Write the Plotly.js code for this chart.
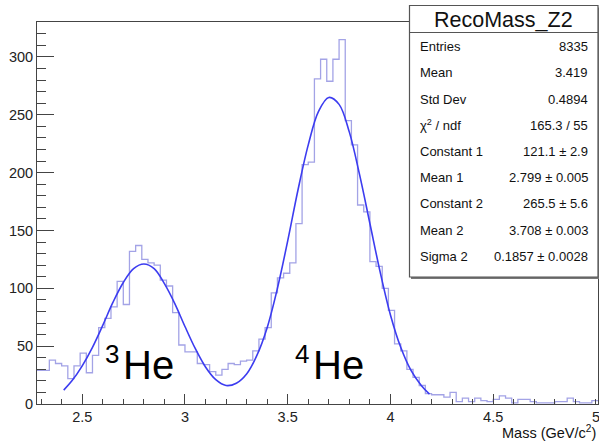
<!DOCTYPE html>
<html>
<head>
<meta charset="utf-8">
<script src="https://cdn.plot.ly/plotly-3.0.1.min.js"></script>
<style>html,body{margin:0;padding:0;background:#fff;}#chart{width:599px;height:442px;}</style>
</head>
<body>
<div id="chart"></div>
<script>
// ---- data ----
const binStart = 2.28;
const binWidth = 0.03;
const counts = [
  29, 29, 38, 35, 33, 22, 33, 44, 27, 42,
  66, 74, 84, 106, 86, 132, 137, 125, 122, 120,
  107, 102, 79, 51, 45, 45, 35, 34, 28, 25,
  30, 35, 34, 37, 38, 46, 56, 66, 96, 109,
  113, 122, 156, 207, 209, 281, 298, 279, 298, 315,
  245, 224, 172, 166, 123, 119, 100, 81, 52, 46,
  30, 23, 16, 9, 8, 8, 6, 10, 2, 5,
  2, 5, 3, 2, 4, 7, 5, 1, 4, 4,
  2, 1, 1, 1, 2, 2, 5, 2, 1, 1, 3
];
const fitX = [2.41, 2.45, 2.5, 2.55, 2.6, 2.65, 2.7, 2.75, 2.8, 2.85, 2.9, 2.95, 3.0, 3.05, 3.1, 3.15, 3.2, 3.25, 3.3, 3.35, 3.4, 3.45, 3.5, 3.55, 3.6, 3.65, 3.7, 3.75, 3.8, 3.85, 3.9, 3.95, 4.0, 4.05, 4.1, 4.15, 4.19];
const fitY = [12, 20, 33, 49, 68, 88, 105, 117, 121, 117, 104, 87, 67, 48, 32, 21, 16, 18, 26, 42, 66, 100, 141, 185, 224, 253, 265, 259, 235, 198, 156, 114, 77, 49, 29, 16, 8.5];
const xTickVals = [2.5, 3, 3.5, 4, 4.5];
const xTickText = ['2.5', '3', '3.5', '4', '4.5'];
const xLastTick = {value: 5, text: '5'};
const statsTitle = 'RecoMass_Z2';
const statLabels = ['Entries', 'Mean', 'Std Dev', 'χ<sup>2</sup> / ndf', 'Constant 1', 'Mean 1', 'Constant 2', 'Mean 2', 'Sigma 2'];
const statValues = ['8335', '3.419', '0.4894', '165.3 / 55', '121.1 ± 2.9', '2.799 ± 0.005', '265.5 ± 5.6', '3.708 ± 0.003', '0.1857 ± 0.0028'];
const peakLabels = [{sup: '3', txt: 'He'}, {sup: '4', txt: 'He'}];

// ---- build step outline from bins ----
const edges = counts.map((c, i) => binStart + i * binWidth);
edges.push(binStart + counts.length * binWidth);
const stepY = counts.concat([counts[counts.length - 1]]);

// ---- pixel helpers (plot area 37..598 x 22..404) ----
const L = 37, T = 22, W = 561, H = 382;
const px = x => (x - L) / W;
const py = y => (T + H - y) / H;
const FONT = 'Liberation Sans, Arial, Helvetica, sans-serif';

const traces = [
  {x: edges, y: stepY, type: 'scatter', mode: 'lines', line: {shape: 'hv', color: '#a3a3e6', width: 1.3}, hoverinfo: 'skip'},
  {x: fitX, y: fitY, type: 'scatter', mode: 'lines', line: {shape: 'spline', color: '#3c3cf0', width: 1.6}, hoverinfo: 'skip'}
];

const annotations = [];
// last x tick label (sits on the right edge, partly cut like the reference)
annotations.push({xref: 'x', yref: 'paper', x: xLastTick.value, y: py(417), text: xLastTick.text, showarrow: false, xanchor: 'center', yanchor: 'middle', font: {family: FONT, size: 14.5, color: '#222'}});
// stats box text
annotations.push({xref: 'paper', yref: 'paper', x: px(503), y: py(20), text: statsTitle, showarrow: false, xanchor: 'center', yanchor: 'middle', font: {family: FONT, size: 21.5, color: '#111'}});
const rowY0 = 46.7, rowDy = 26.2;
statLabels.forEach((s, i) => {
  annotations.push({xref: 'paper', yref: 'paper', x: px(418), y: py(rowY0 + i * rowDy), text: s, showarrow: false, xanchor: 'left', yanchor: 'middle', font: {family: FONT, size: 13, color: '#111'}});
  annotations.push({xref: 'paper', yref: 'paper', x: px(590), y: py(rowY0 + i * rowDy), text: statValues[i], showarrow: false, xanchor: 'right', yanchor: 'middle', font: {family: FONT, size: 13, color: '#111'}});
});
// x-axis title
annotations.push({xref: 'paper', yref: 'paper', x: px(598), y: py(432), text: 'Mass (GeV/c<sup>2</sup>)', showarrow: false, xanchor: 'right', yanchor: 'middle', font: {family: FONT, size: 14.5, color: '#111'}});
// peak labels
const peakPos = [{sx: 112, tx: 121, y: 365}, {sx: 302, tx: 311, y: 365}];
peakLabels.forEach((p, i) => {
  annotations.push({xref: 'paper', yref: 'paper', x: px(peakPos[i].sx), y: py(354), text: p.sup, showarrow: false, xanchor: 'center', yanchor: 'middle', font: {family: FONT, size: 26, color: '#000'}});
  annotations.push({xref: 'paper', yref: 'paper', x: px(peakPos[i].tx), y: py(peakPos[i].y), text: p.txt, showarrow: false, xanchor: 'left', yanchor: 'middle', font: {family: FONT, size: 40, color: '#000'}});
});

const shapes = [
  {type: 'rect', xref: 'paper', yref: 'paper', x0: px(411), x1: px(600), y0: py(279), y1: py(7.5), fillcolor: '#777', line: {width: 0}, layer: 'above'},
  {type: 'rect', xref: 'paper', yref: 'paper', x0: px(409.5), x1: px(598), y0: py(277), y1: py(5.5), fillcolor: '#fff', line: {color: '#555', width: 1.2}, layer: 'above'},
  {type: 'line', xref: 'paper', yref: 'paper', x0: px(409.5), x1: px(598), y0: py(32.5), y1: py(32.5), line: {color: '#555', width: 1.2}, layer: 'above'}
];

const layout = {
  width: 599, height: 442,
  margin: {l: L, r: 599 - L - W, t: T, b: 442 - T - H, pad: 0},
  paper_bgcolor: '#fff', plot_bgcolor: '#fff',
  showlegend: false,
  xaxis: {
    range: [2.28, 5.01], showgrid: false, zeroline: false,
    tickvals: xTickVals, ticktext: xTickText,
    ticks: 'inside', ticklen: 10.5, tickwidth: 1, tickcolor: '#444',
    minor: {dtick: 0.1, tick0: 2.3, ticks: 'inside', ticklen: 5.5, tickwidth: 1, tickcolor: '#444'},
    showline: true, linecolor: '#444', linewidth: 1, mirror: true,
    tickfont: {family: FONT, size: 14.5, color: '#222'}
  },
  yaxis: {
    range: [0, 330.2], showgrid: false, zeroline: false,
    dtick: 50, tick0: 0,
    ticks: 'inside', ticklen: 16.5, tickwidth: 1, tickcolor: '#444',
    minor: {dtick: 10, ticks: 'inside', ticklen: 9, tickwidth: 1, tickcolor: '#444'},
    showline: true, linecolor: '#444', linewidth: 1, mirror: true,
    tickfont: {family: FONT, size: 14.5, color: '#222'}
  },
  annotations: annotations,
  shapes: shapes
};

Plotly.newPlot('chart', traces, layout, {staticPlot: true, displayModeBar: false});
</script>
</body>
</html>
